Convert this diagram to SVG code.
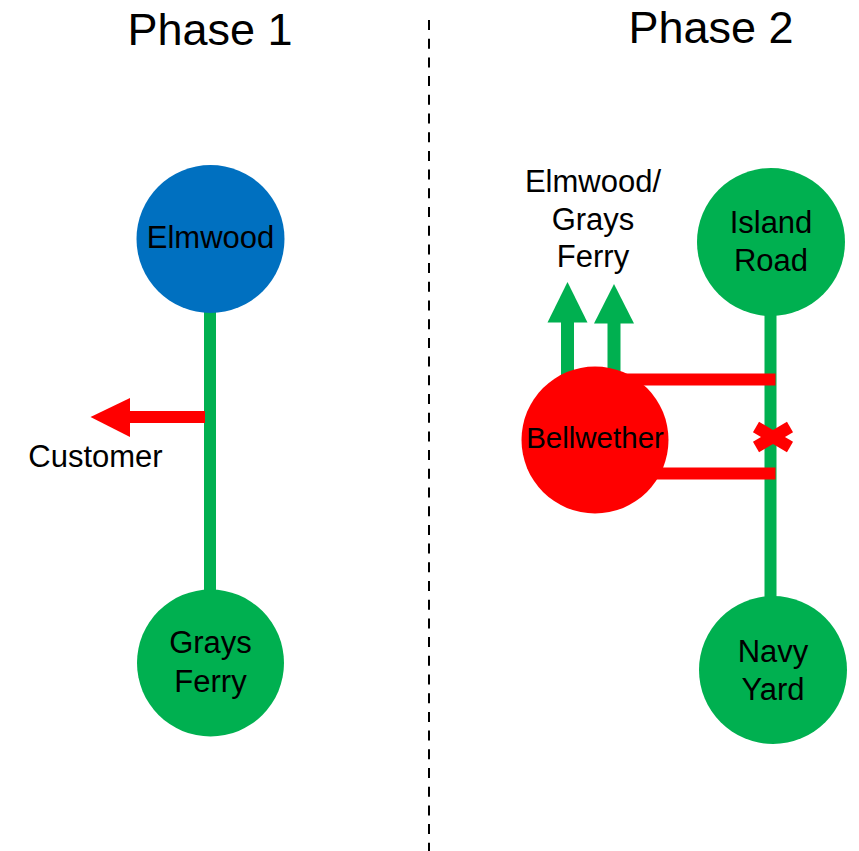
<svg xmlns="http://www.w3.org/2000/svg" width="859" height="851" viewBox="0 0 859 851">
  <style>
    text { font-family: "Liberation Sans", Arial, sans-serif; fill: #000; text-anchor: middle; }
    .title { font-size: 45px; }
    .lbl { font-size: 31px; }
    .green { fill: #00B050; }
    .blue { fill: #0070C0; }
    .red { fill: #FF0000; }
    .gline { stroke: #00B050; stroke-width: 12; fill: none; }
    .rline { stroke: #FF0000; stroke-width: 12; fill: none; }
  </style>
  <rect width="859" height="851" fill="#ffffff"/>

  <g id="titles">
    <text class="title" x="210" y="45">Phase 1</text>
    <text class="title" x="711" y="43">Phase 2</text>
  </g>

  <line id="divider" x1="429" y1="20" x2="429" y2="851" stroke="#000" stroke-width="2" stroke-dasharray="10 8.7"/>

  <g id="connectors">
    <line class="gline" x1="210" y1="300" x2="210" y2="600"/>
    <line class="rline" x1="205" y1="417" x2="128" y2="417"/>
    <polygon class="red" points="90.5,417 130,398 130,437"/>
    <line class="gline" x1="770.5" y1="300" x2="770.5" y2="610"/>
    <line x1="567.5" y1="320" x2="567.5" y2="400" stroke="#00B050" stroke-width="13"/>
    <polygon class="green" points="567.5,282 547.5,322.5 587.5,322.5"/>
    <line x1="614" y1="320" x2="614" y2="400" stroke="#00B050" stroke-width="13"/>
    <polygon class="green" points="614,284 594,323.5 634,323.5"/>
    <line class="rline" x1="620" y1="379.5" x2="775.5" y2="379.5"/>
    <line class="rline" x1="640" y1="473.5" x2="775.5" y2="473.5"/>
    <g id="break">
      <line class="rline" stroke-width="11" x1="756" y1="427" x2="790" y2="447"/>
      <line class="rline" stroke-width="11" x1="756" y1="447" x2="790" y2="427"/>
    </g>
  </g>

  <g id="elmwood">
    <circle class="blue" cx="210.5" cy="239" r="74"/>
    <text class="lbl" x="210.5" y="248">Elmwood</text>
  </g>
  <g id="grays-ferry">
    <circle class="green" cx="210.5" cy="663" r="73.5"/>
    <text class="lbl" x="210.5" y="653">Grays</text>
    <text class="lbl" x="210.5" y="691.5">Ferry</text>
  </g>
  <g id="customer">
    <text class="lbl" x="95.5" y="467">Customer</text>
  </g>
  <g id="elmwood-grays-ferry">
    <text class="lbl" x="593" y="192">Elmwood/</text>
    <text class="lbl" x="593" y="230">Grays</text>
    <text class="lbl" x="593" y="267">Ferry</text>
  </g>
  <g id="island-road">
    <circle class="green" cx="771" cy="242" r="74"/>
    <text class="lbl" x="771" y="233">Island</text>
    <text class="lbl" x="771" y="271">Road</text>
  </g>
  <g id="navy-yard">
    <circle class="green" cx="773" cy="670" r="74"/>
    <text class="lbl" x="773" y="662">Navy</text>
    <text class="lbl" x="773" y="700">Yard</text>
  </g>
  <g id="bellwether">
    <circle class="red" cx="595" cy="440" r="73.5"/>
    <text class="lbl" x="595" y="448" style="font-size:29.5px">Bellwether</text>
  </g>
</svg>
